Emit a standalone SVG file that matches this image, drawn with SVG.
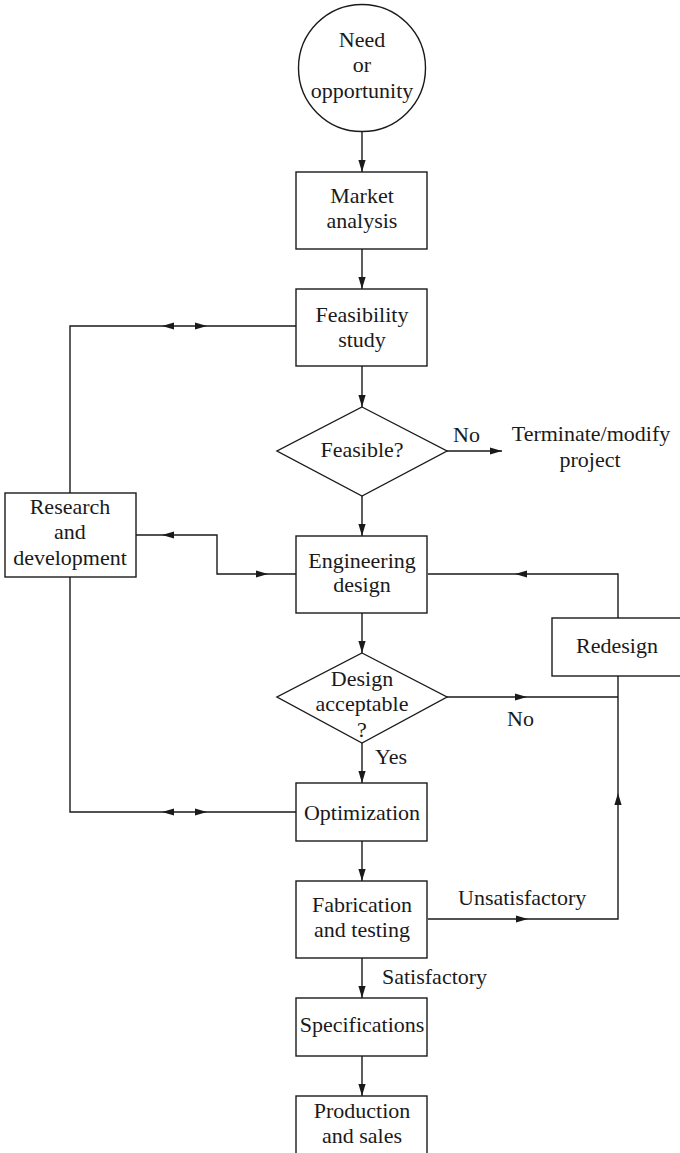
<svg xmlns="http://www.w3.org/2000/svg" xmlns:xlink="http://www.w3.org/1999/xlink" width="680" height="1153" viewBox="0 0 680 1153">
<style>
.s{fill:#fff;stroke:#1a1a1a;stroke-width:1.4}
.c{fill:none;stroke:#1a1a1a;stroke-width:1.4}
.t{font-family:"Liberation Serif","Times New Roman",serif;font-size:22px;fill:#1a1a1a;text-anchor:middle}
.l{font-family:"Liberation Serif","Times New Roman",serif;font-size:22px;fill:#1a1a1a}
.a{fill:#1a1a1a}
</style>
<defs>
<path id="ah" d="M0,0 L-12,-3.6 L-12,3.6 Z"/>
</defs>
<rect width="680" height="1153" fill="#fff"/>
<g id="connectors">
<path class="c" d="M362,131 V172 M362,249 V289 M362,366 V407 M362,496 V536 M447,451 H502"/>
<path class="c" d="M296,326 H70 V493"/>
<path class="c" d="M136,535 H217 V574 H296"/>
<path class="c" d="M618,618 V574 H428"/>
<path class="c" d="M362,613 V653 M447,697 H618 M618,676 V919 H428 M362,743 V783 M362,841 V881"/>
<path class="c" d="M70,577 V812 H296"/>
<path class="c" d="M362,958 V998 M362,1056 V1096"/>
<g class="a">
<use xlink:href="#ah" transform="translate(362,172) rotate(90)"/>
<use xlink:href="#ah" transform="translate(362,289) rotate(90)"/>
<use xlink:href="#ah" transform="translate(362,407) rotate(90)"/>
<use xlink:href="#ah" transform="translate(362,536) rotate(90)"/>
<use xlink:href="#ah" transform="translate(502,451)"/>
<use xlink:href="#ah" transform="translate(162,326) rotate(180)"/>
<use xlink:href="#ah" transform="translate(207,326)"/>
<use xlink:href="#ah" transform="translate(162,535) rotate(180)"/>
<use xlink:href="#ah" transform="translate(268,574)"/>
<use xlink:href="#ah" transform="translate(515,574) rotate(180)"/>
<use xlink:href="#ah" transform="translate(362,653) rotate(90)"/>
<use xlink:href="#ah" transform="translate(527,697)"/>
<use xlink:href="#ah" transform="translate(618,793) rotate(-90)"/>
<use xlink:href="#ah" transform="translate(528,919)"/>
<use xlink:href="#ah" transform="translate(362,783) rotate(90)"/>
<use xlink:href="#ah" transform="translate(362,881) rotate(90)"/>
<use xlink:href="#ah" transform="translate(162,812) rotate(180)"/>
<use xlink:href="#ah" transform="translate(207,812)"/>
<use xlink:href="#ah" transform="translate(362,998) rotate(90)"/>
<use xlink:href="#ah" transform="translate(362,1096) rotate(90)"/>
</g>
<text class="l" x="453" y="442">No</text>
<text class="l" x="507" y="726">No</text>
<text class="l" x="375" y="764">Yes</text>
<text class="l" x="458" y="905">Unsatisfactory</text>
<text class="l" x="382" y="984">Satisfactory</text>
</g>
<g id="need">
<circle class="s" cx="362" cy="68" r="63.5"/>
<text class="t" x="362" y="47">Need</text>
<text class="t" x="362" y="72">or</text>
<text class="t" x="362" y="98">opportunity</text>
</g>
<g id="market">
<rect class="s" x="296" y="172" width="131" height="77"/>
<text class="t" x="362" y="203">Market</text>
<text class="t" x="362" y="228">analysis</text>
</g>
<g id="feasibility">
<rect class="s" x="296" y="289" width="131" height="77"/>
<text class="t" x="362" y="322">Feasibility</text>
<text class="t" x="362" y="347">study</text>
</g>
<g id="feasible">
<polygon class="s" points="362,407 447,451 362,496 277,451"/>
<text class="t" x="362" y="457">Feasible?</text>
</g>
<g id="terminate">
<text class="t" x="591" y="441">Terminate/modify</text>
<text class="t" x="590" y="467">project</text>
</g>
<g id="rnd">
<rect class="s" x="5" y="493" width="131" height="84"/>
<text class="t" x="70" y="514">Research</text>
<text class="t" x="70" y="539">and</text>
<text class="t" x="70" y="565">development</text>
</g>
<g id="engineering">
<rect class="s" x="296" y="536" width="131" height="77"/>
<text class="t" x="362" y="568">Engineering</text>
<text class="t" x="362" y="592">design</text>
</g>
<g id="redesign">
<rect class="s" x="552" y="618" width="140" height="58"/>
<text class="t" x="617" y="653">Redesign</text>
</g>
<g id="acceptable">
<polygon class="s" points="362,653 447,697 362,743 277,697"/>
<text class="t" x="362" y="686">Design</text>
<text class="t" x="362" y="711">acceptable</text>
<text class="t" x="362" y="737">?</text>
</g>
<g id="optimization">
<rect class="s" x="296" y="783" width="131" height="58"/>
<text class="t" x="362" y="820">Optimization</text>
</g>
<g id="fabrication">
<rect class="s" x="296" y="881" width="131" height="77"/>
<text class="t" x="362" y="912">Fabrication</text>
<text class="t" x="362" y="937">and testing</text>
</g>
<g id="specifications">
<rect class="s" x="296" y="998" width="131" height="58"/>
<text class="t" x="362" y="1032">Specifications</text>
</g>
<g id="production">
<rect class="s" x="296" y="1096" width="131" height="70"/>
<text class="t" x="362" y="1118">Production</text>
<text class="t" x="362" y="1143">and sales</text>
</g>
</svg>
